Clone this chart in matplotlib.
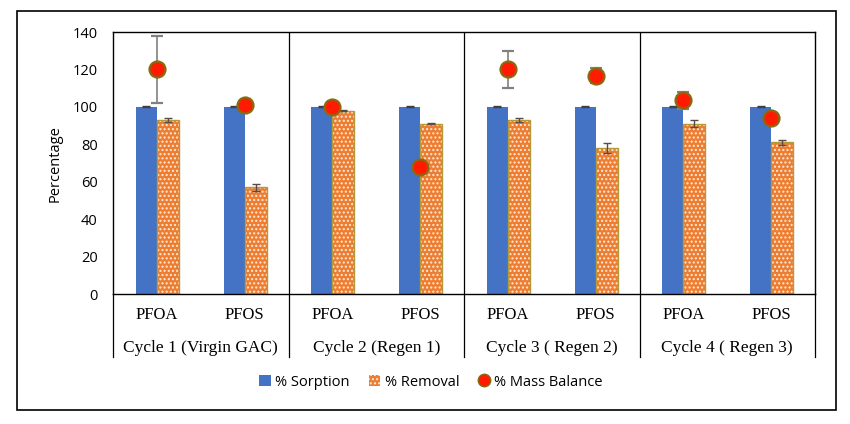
import matplotlib
matplotlib.use("Agg")
import matplotlib.pyplot as plt
import matplotlib.transforms as mtransforms
from matplotlib.patches import Rectangle
from matplotlib.lines import Line2D
import numpy as np

compounds = ["PFOA", "PFOS", "PFOA", "PFOS", "PFOA", "PFOS", "PFOA", "PFOS"]
cycles = ["Cycle 1 (Virgin GAC)", "Cycle 2 (Regen 1)", "Cycle 3 ( Regen 2)", "Cycle 4 ( Regen 3)"]
sorption = [100, 100, 100, 100, 100, 100, 100, 100]
sorption_err = [0.3, 0.3, 0.3, 0.3, 0.3, 0.3, 0.3, 0.3]
removal = [93, 57, 98, 91, 93, 78, 91, 81]
removal_err = [1, 2, 0.3, 0.3, 1, 2.5, 2, 1.5]
mass_balance = [120, 101, 100, 68, 120, 116.5, 103.5, 94]
mass_balance_err = [18, 0, 0, 0, 10, 4, 4.5, 0]

plt.rcParams['hatch.linewidth'] = 1.0

fig = plt.figure(figsize=(8.5, 4.24), dpi=100)
ax = fig.add_axes([113/850, 1-294/424, (815-113)/850, (294-32)/424])

x = np.arange(len(compounds))
blue = "#4472C4"
orange = "#ED7D31"
hatch = '....'

ax.bar(x, sorption, width=-0.24, align='edge', color=blue, zorder=2)
ax.errorbar(x - 0.12, sorption, yerr=sorption_err, fmt='none', ecolor='#404040',
            elinewidth=1, capsize=3, zorder=3)
ax.bar(x, removal, width=0.25, align='edge', color=orange, edgecolor='#FFE9D9',
       hatch=hatch, linewidth=0, zorder=2)
ax.bar(x, removal, width=0.25, align='edge', fill=False, edgecolor='#B39B3A',
       linewidth=1.0, zorder=2)
ax.errorbar(x + 0.125, removal, yerr=removal_err, fmt='none', ecolor='#5a4a4a',
            elinewidth=1, capsize=3, zorder=3)
ax.errorbar(x, mass_balance, yerr=mass_balance_err, fmt='o', color='#FF1A00',
            markeredgecolor='#8A6A10', markeredgewidth=1.6, markersize=11.5,
            ecolor='#808080', elinewidth=1.2, capsize=4, zorder=4)

ax.set_xlim(-0.5, len(compounds) - 0.5)
ax.set_ylim(0, 140)
ax.set_yticks(np.arange(0, 141, 20))
ax.tick_params(axis='y', length=0, pad=11, labelsize=10.5)
ax.set_xticks([])
for lab in ax.get_yticklabels():
    lab.set_family('Open Sans')
for s in ax.spines.values():
    s.set_color('black')
    s.set_linewidth(1.0)

# group separators inside plot
for b in [1.5, 3.5, 5.5]:
    ax.axvline(b, color='black', linewidth=0.9, zorder=1)

trans = mtransforms.blended_transform_factory(ax.transData, ax.transAxes)
for xi, c in zip(x, compounds):
    ax.text(xi, -0.08, c, transform=trans, ha='center', va='center',
            fontsize=12, family='Liberation Serif')
for i, cy in enumerate(cycles):
    ax.text(2*i + 0.5, -0.205, cy, transform=trans, ha='center', va='center',
            fontsize=12.5, family='Liberation Serif')
for b in [-0.5, 1.5, 3.5, 5.5, 7.5]:
    ax.plot([b, b], [0, -0.24], transform=trans, color='black', linewidth=0.9,
            clip_on=False)

fig.text(55/850, 1-164/424, "Percentage", rotation=90, ha='center', va='center',
         fontsize=10.5, family='Open Sans')

# outer frame
fig.patches.append(Rectangle((17/850, 1-410/424), (836-17)/850, (410-11)/424,
                             transform=fig.transFigure, fill=False,
                             edgecolor='black', linewidth=1.2))

h1 = Rectangle((0, 0), 1, 1, facecolor=blue)
h2 = Rectangle((0, 0), 1, 1, facecolor=orange, edgecolor='#FFE9D9', hatch=hatch, linewidth=0)
h3 = Line2D([], [], marker='o', linestyle='none', color='#FF1A00',
            markeredgecolor='#8A6A10', markersize=9)
fig.legend([h1, h2, h3], ["% Sorption", "% Removal", "% Mass Balance"],
           loc='center', bbox_to_anchor=(431/850, 1-382/424), ncol=3, frameon=False,
           prop={'family': 'Open Sans', 'size': 10.5}, handlelength=0.8,
           handleheight=0.8, handletextpad=0.3, columnspacing=1.3)

fig.savefig("out.png", dpi=100)
